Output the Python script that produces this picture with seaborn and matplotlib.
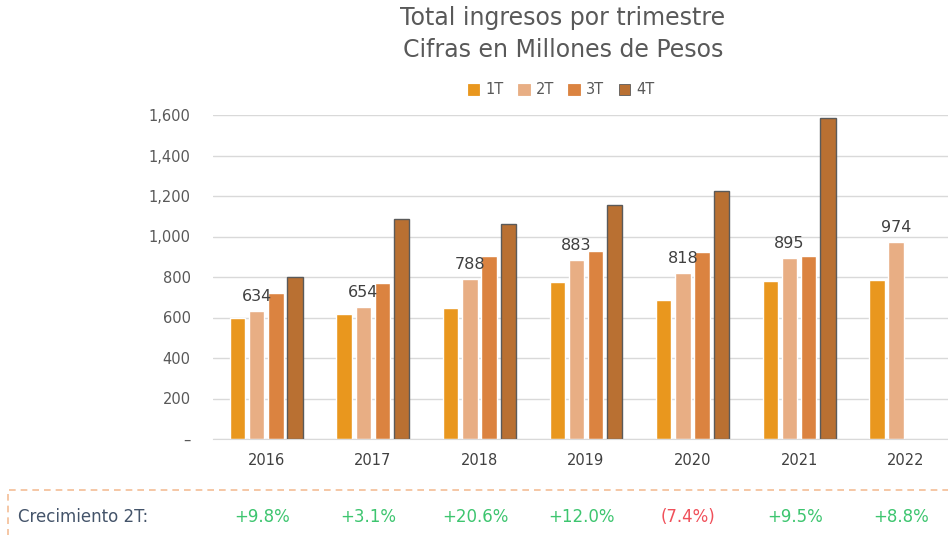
import matplotlib.pyplot as plt
import matplotlib.patches as mpatches
import seaborn as sns
import pandas as pd

# Data (millones de pesos)
years = ['2016', '2017', '2018', '2019', '2020', '2021', '2022']
quarters = ['1T', '2T', '3T', '4T']
q1 = [598, 617, 647, 774, 688, 782, 787]
q2 = [634, 654, 788, 883, 818, 895, 974]
q3 = [722, 770, 902, 928, 922, 902, None]
q4 = [800, 1085, 1063, 1155, 1223, 1584, None]
growth_2t = [9.8, 3.1, 20.6, 12.0, -7.4, 9.5, 8.8]

colors = ['#E9971E', '#E8AE84', '#DB8340', '#B97032']

rows = []
for q, vals in zip(quarters, [q1, q2, q3, q4]):
    for y, v in zip(years, vals):
        if v is not None:
            rows.append({'year': y, 'quarter': q, 'value': v})
df = pd.DataFrame(rows)

sns.set_style('white')
plt.rcParams['font.family'] = ['DejaVu Sans']

fig = plt.figure(figsize=(9.48, 5.35), dpi=100)
ax = fig.add_axes([213 / 948, 1 - 439 / 535, 746 / 948, 324 / 535])

sns.barplot(data=df, x='year', y='value', hue='quarter', order=years,
            hue_order=quarters, palette=colors, width=0.72, gap=0.2,
            errorbar=None, saturation=1, ax=ax)

# 4T bars have a dark outline
for bar in ax.containers[3]:
    bar.set_edgecolor('#5A5A5A')
    bar.set_linewidth(1)

# labels only on 2T
ax.bar_label(ax.containers[1], padding=5, fontsize=11.5, color='#404040')

ax.set_ylim(0, 1600)
ax.set_yticks(range(0, 1601, 200))
ax.set_yticklabels(['–' if v == 0 else f'{v:,}' for v in range(0, 1601, 200)])
ax.yaxis.grid(True, color='#D9D9D9', linewidth=1)
ax.set_axisbelow(True)
for s in ['left', 'right', 'top']:
    ax.spines[s].set_visible(False)
ax.spines['bottom'].set_color('#D9D9D9')
ax.tick_params(axis='y', length=0, pad=16, labelsize=10.5, labelcolor='#595959')
ax.tick_params(axis='x', length=0, pad=10, labelsize=10.5, labelcolor='#404040')
ax.set_xlabel('')
ax.set_ylabel('')

# legend
handles, labels = ax.get_legend_handles_labels()
ax.legend_.remove()
leg = fig.legend(handles, labels, loc='center', bbox_to_anchor=(561 / 948, 1 - 90 / 535),
                 ncol=4, frameon=False, fontsize=10.5, labelcolor='#595959',
                 handlelength=0.8, handleheight=0.8, handletextpad=0.4, columnspacing=1.0)
for h in leg.legend_handles:
    h.set_linewidth(0.6)
    h.set_edgecolor(h.get_facecolor())
leg.legend_handles[3].set_edgecolor('#5A5A5A')

# title
fig.text(563 / 948, 1 - 18 / 535, 'Total ingresos por trimestre', ha='center', va='center',
         fontsize=17, color='#595959')
fig.text(563 / 948, 1 - 50 / 535, 'Cifras en Millones de Pesos', ha='center', va='center',
         fontsize=17, color='#595959')

# growth row with dashed box
box = mpatches.Rectangle((8 / 948, -0.1), 1.1, 0.1 + (535 - 490) / 535,
                         transform=fig.transFigure, fill=False, edgecolor='#F4BE96',
                         linestyle=(0, (4, 3)), linewidth=1.2, clip_on=False)
fig.add_artist(box)
fig.text(18 / 948, 1 - 517 / 535, 'Crecimiento 2T:', ha='left', va='center',
         fontsize=12, color='#44546A')
trans = ax.get_xaxis_transform()
for i, g in enumerate(growth_2t):
    if g >= 0:
        txt, col = f'+{g:.1f}%', '#3DC56F'
    else:
        txt, col = f'({abs(g):.1f}%)', '#F0505A'
    ax.text(i - 0.04, (1 - 517 / 535 - (1 - 439 / 535)) / (324 / 535), txt,
            transform=trans, ha='center', va='center', fontsize=12, color=col,
            clip_on=False)

fig.savefig('out.png', dpi=100)
